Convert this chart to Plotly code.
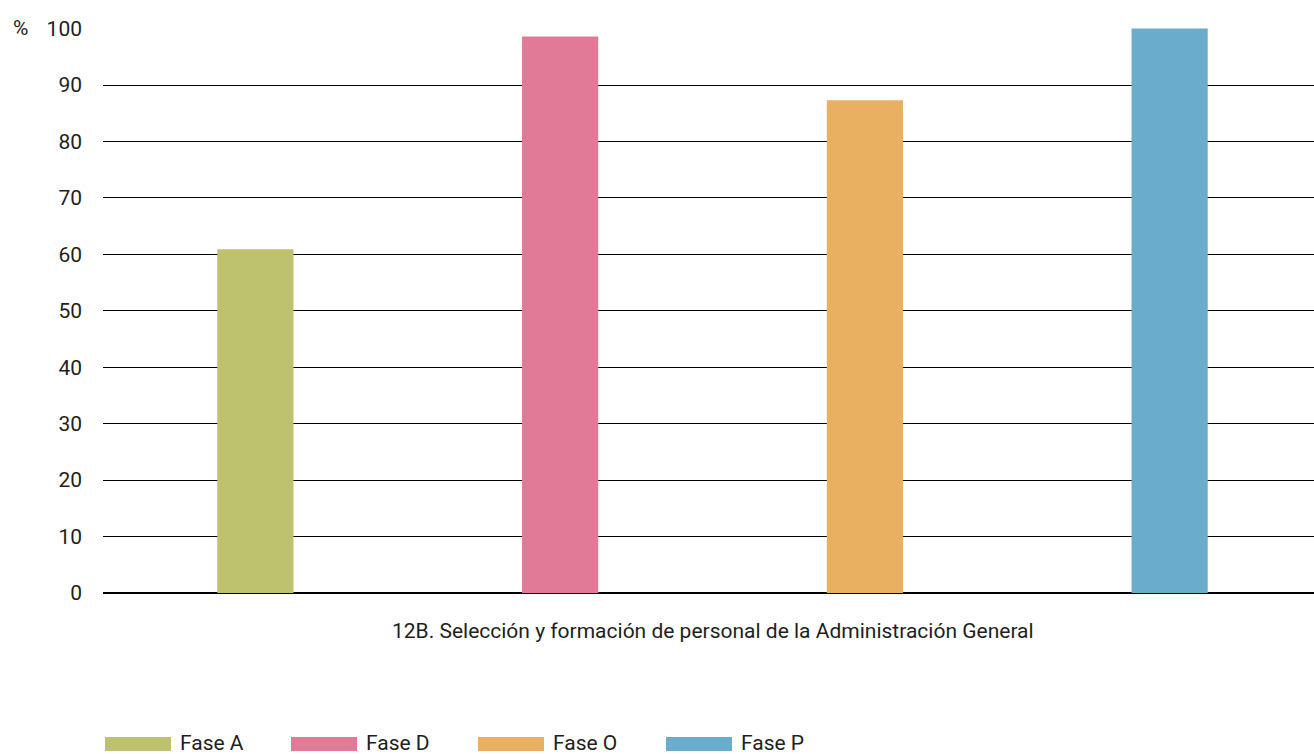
import plotly.graph_objects as go

# ---- data ----
series = ["Fase A", "Fase D", "Fase O", "Fase P"]
values = [60.9, 98.6, 87.3, 100.0]
colors = ["#BEC26E", "#E07A97", "#EAB062", "#6AACCC"]
category = "12B. Selección y formación de personal de la Administración General"
y_ticks = list(range(0, 101, 10))

# ---- layout constants (px) ----
W, H = 1314, 754
ML, MT, MB = 103, 28, 161
PW = W - ML
PH = H - MT - MB
FONT = "Roboto"
FS = 21
TXT = "#1e1e1e"

fig = go.Figure()
for i, (s, v, c) in enumerate(zip(series, values, colors)):
    fig.add_trace(go.Bar(x=[i], y=[v], name=s, marker=dict(color=c, line=dict(width=0)),
                         width=0.25, showlegend=False))

shapes = []
annotations = []

def px_x(p):
    return (p - ML) / PW

def px_y(p):
    return (H - MB - p) / PH

# custom legend
leg_x = [105, 291, 478, 666]
for lx, s, c in zip(leg_x, series, colors):
    shapes.append(dict(type="rect", xref="paper", yref="paper",
                       x0=px_x(lx), x1=px_x(lx + 66), y0=px_y(751), y1=px_y(737),
                       fillcolor=c, line=dict(width=0), layer="above"))
    annotations.append(dict(xref="paper", yref="paper", x=px_x(lx + 73), y=px_y(743),
                            text=s, showarrow=False, xanchor="left", yanchor="middle",
                            font=dict(family=FONT, size=FS, color=TXT)))

# category label
annotations.append(dict(xref="x", yref="paper", x=1.5, y=0, yshift=-38,
                        text=category, showarrow=False, xanchor="center", yanchor="middle",
                        font=dict(family=FONT, size=FS, color=TXT)))
# unit label
annotations.append(dict(xref="paper", yref="paper", x=0, xshift=-83, y=1,
                        text="%", showarrow=False, xanchor="center", yanchor="middle",
                        font=dict(family=FONT, size=FS, color=TXT)))

fig.update_layout(
    width=W, height=H,
    margin=dict(l=ML, r=0, t=MT, b=MB, pad=0),
    paper_bgcolor="white", plot_bgcolor="white",
    showlegend=False,
    shapes=shapes, annotations=annotations,
    xaxis=dict(range=[-0.5, 3.5 - 8 / 304.5], showticklabels=False, showgrid=False,
               zeroline=False, showline=False, fixedrange=True),
    yaxis=dict(range=[0, 100.1], tickvals=y_ticks, showgrid=True, gridcolor="#000000",
               gridwidth=1, zeroline=True, zerolinecolor="#000000", zerolinewidth=1.5,
               showline=False, ticklabelstandoff=20,
               tickfont=dict(family=FONT, size=FS, color=TXT)),
)

fig.write_html("out.html", config={"displayModeBar": False},
               post_script="document.body.style.margin='0';")
